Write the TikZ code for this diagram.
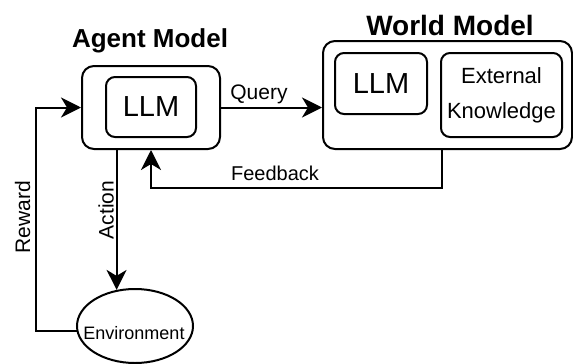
\documentclass[tikz,border=0pt]{standalone}
\usepackage{fontspec}
\setmainfont{Liberation Sans}
\usetikzlibrary{arrows.meta,shapes.geometric}
\tikzset{
  box/.style={draw, line width=2pt, rounded corners=12pt, inner sep=0pt},
  inbox/.style={draw, line width=2pt, rounded corners=9pt, inner sep=0pt, align=center},
  title/.style={font=\fontsize{26}{30}\selectfont\bfseries},
  lbl/.style={font=\fontsize{20}{24}\selectfont},
  flow/.style={line width=2pt, -{Stealth[length=20pt,width=20pt,inset=6pt]}},
}
\begin{document}
\begin{tikzpicture}[x=1pt,y=-1pt]
\useasboundingbox (0,0) rectangle (573,364);

% agent side
\node[box, minimum width=138pt, minimum height=83pt] (agent) at (151,107.5) {};
\node[inbox, minimum width=90pt, minimum height=60pt, font=\fontsize{29}{34}\selectfont] (allm) at (151,107) {LLM};
\node[title] (atitle) at (150,41) {Agent Model};

% world side
\node[box, minimum width=249pt, minimum height=108pt] (world) at (447.5,95) {};
\node[inbox, minimum width=92pt, minimum height=61pt, font=\fontsize{29}{34}\selectfont] (wllm) at (381,83.5) {LLM};
\node[inbox, minimum width=121pt, minimum height=84pt, font=\fontsize{22}{35}\selectfont] (ext) at (501.5,95) {External\\Knowledge};
\node[title, font=\fontsize{28}{32}\selectfont\bfseries] (wtitle) at (450,25) {World Model};

% environment
\node[draw, ellipse, line width=2pt, minimum width=116pt, minimum height=74pt, inner sep=0pt] (env) at (135,326) {};
\node[font=\fontsize{18}{22}\selectfont] (envtext) at (134,333) {Environment};

% connectors
\draw[flow] (agent.east) -- (agent.east -| world.west);
\node[lbl, font=\fontsize{21}{25}\selectfont] (qlbl) at (259,94) {Query};

\coordinate (fbstart) at ([xshift=-5.5pt]world.south);
\draw[flow] (fbstart) |- (0,188 -| agent.south) coordinate (fbcorner) -- (agent.south);
\node[lbl] (fblbl) at (275,173) {Feedback};

\draw[flow] (agent.south -| env.117) -- (env.117);
\node[lbl, rotate=90, font=\fontsize{21}{25}\selectfont] (actlbl) at (106,210) {Action};

\coordinate (rwcorner) at (36,331);
\draw[flow] (env.185) -- (env.185 -| rwcorner) |- (agent.west);
\node[lbl, rotate=90, font=\fontsize{21}{25}\selectfont] (rwlbl) at (22.5,217) {Reward};
\end{tikzpicture}
\end{document}
